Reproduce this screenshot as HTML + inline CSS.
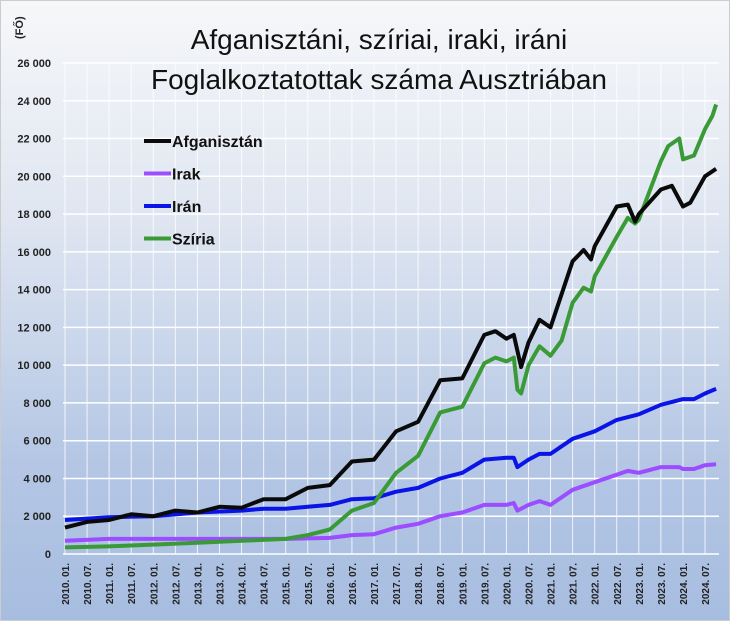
<!DOCTYPE html>
<html><head><meta charset="utf-8"><style>
body{margin:0;}
#wrap{width:730px;height:621px;position:relative;overflow:hidden;background:linear-gradient(#f6f7f9 0%,#dfe6f1 35%,#b4c6e4 75%,#a7bde0 100%);border:1px solid #ccc;box-sizing:border-box;font-family:"Liberation Sans",sans-serif;}
svg{position:absolute;left:0;top:0}
</style></head><body>
<div id="wrap">
<svg id="c" width="730" height="621"></svg>
</div>
<script>
const afgDates=["2010.01","2010.07","2011.01","2011.07","2012.01","2012.07","2013.01","2013.07","2014.01","2014.07","2015.01","2015.07","2016.01","2016.07","2017.01","2017.07","2018.01","2018.07","2019.01","2019.07","2019.10","2020.01","2020.03","2020.05","2020.07","2020.10","2021.01","2021.07","2021.10","2021.12","2022.01","2022.07","2022.10","2022.12","2023.01","2023.07","2023.10","2024.01","2024.03","2024.07","2024.10"];
const afgValues=[1400,1700,1800,2100,2000,2300,2200,2500,2450,2900,2900,3500,3650,4900,5000,6500,7000,9200,9300,11600,11800,11400,11600,9900,11200,12400,12000,15500,16100,15600,16300,18400,18500,17600,18000,19300,19500,18400,18600,20000,20400];
const syrDates=["2010.01","2011.01","2012.01","2013.01","2014.01","2015.01","2015.07","2016.01","2016.07","2017.01","2017.07","2018.01","2018.07","2019.01","2019.07","2019.10","2020.01","2020.03","2020.04","2020.05","2020.07","2020.10","2021.01","2021.04","2021.07","2021.10","2021.12","2022.01","2022.07","2022.10","2022.12","2023.01","2023.07","2023.09","2023.12","2024.01","2024.04","2024.07","2024.09","2024.10"];
const syrValues=[350,400,500,600,700,800,1000,1300,2300,2700,4300,5200,7500,7800,10100,10400,10200,10400,8700,8500,10000,11000,10500,11300,13300,14100,13900,14700,16800,17800,17500,17700,20800,21600,22000,20900,21100,22500,23200,23800];
const iranDates=["2010.01","2011.01","2012.01","2013.01","2014.01","2014.07","2015.01","2015.07","2016.01","2016.07","2017.01","2017.07","2018.01","2018.07","2019.01","2019.07","2020.01","2020.03","2020.04","2020.07","2020.10","2021.01","2021.07","2022.01","2022.07","2023.01","2023.07","2024.01","2024.04","2024.07","2024.10"];
const iranValues=[1800,1950,2000,2200,2300,2400,2400,2500,2600,2900,2950,3300,3500,4000,4300,5000,5100,5100,4600,5000,5300,5300,6100,6500,7100,7400,7900,8200,8200,8500,8750];
const irakDates=["2010.01","2011.01","2012.01","2013.01","2014.01","2015.01","2016.01","2016.07","2017.01","2017.07","2018.01","2018.07","2019.01","2019.07","2020.01","2020.03","2020.04","2020.07","2020.10","2021.01","2021.07","2022.01","2022.07","2022.10","2023.01","2023.07","2023.12","2024.01","2024.04","2024.07","2024.10"];
const irakValues=[700,800,800,800,800,800,850,1000,1050,1400,1600,2000,2200,2600,2600,2700,2300,2600,2800,2600,3400,3800,4200,4400,4300,4600,4600,4500,4500,4700,4750];
const yTicks=[0,2000,4000,6000,8000,10000,12000,14000,16000,18000,20000,22000,24000,26000];
const xTickLabels=[];for(let y=2010;y<=2024;y++){xTickLabels.push(y+". 01.");xTickLabels.push(y+". 07.");}

const NS="http://www.w3.org/2000/svg",svg=document.getElementById('c');
const X0=64,PX_PER_MONTH=22.07/6,Y0=553,Y1=62,YMAX=26000;
function mon(d){const p=d.split('.');return (+p[0]-2010)*12+(+p[1]-1);}
function xs(d){return X0+mon(d)*PX_PER_MONTH;}
function ys(v){return Y0-(v/YMAX)*(Y0-Y1);}
function mk(t,a){const e=document.createElementNS(NS,t);for(const k in a)e.setAttribute(k,a[k]);svg.appendChild(e);return e;}

yTicks.forEach(v=>{
  const l=mk('line',{x1:62,x2:718,y1:ys(v),y2:ys(v),stroke:'#fff','stroke-width':1.5});
  
  
  const t=mk('text',{x:50,y:ys(v)+4,'text-anchor':'end','font-size':11,'font-weight':'bold',fill:'#222'});
  t.textContent=v===0?'0':(v/1000)+' 000';
  
  
});
xTickLabels.forEach((s,i)=>{
  const x=X0+i*6*PX_PER_MONTH;
  const l=mk('line',{x1:x,x2:x,y1:Y1,y2:Y0,stroke:'#fff','stroke-width':1,opacity:0.8});
  
  
  const t=mk('text',{x:0,y:0,transform:`translate(${x+4},562) rotate(-90)`,'text-anchor':'end','font-size':10,'font-weight':'bold',fill:'#222'});
  t.textContent=s;
  
  
});
function series(dates,vals,color,name){
  const pts=dates.map((d,i)=>xs(d).toFixed(1)+','+ys(vals[i]).toFixed(1)).join(' ');
  const p=mk('polyline',{points:pts,fill:'none',stroke:color,'stroke-width':4,'stroke-linejoin':'round'});
  
  
}
series(irakDates,irakValues,'#9b4dff','series-irak');
series(iranDates,iranValues,'#0a14e6','series-iran');
series(syrDates,syrValues,'#3a9a36','series-syria');
series(afgDates,afgValues,'#0a0a0a','series-afghanistan');

[['Afganisztán','#0a0a0a'],['Irak','#9b4dff'],['Irán','#0a14e6'],['Szíria','#3a9a36']].forEach((e,i)=>{
  const y=140+i*32.5;
  const l=mk('line',{x1:143,x2:170,y1:y,y2:y,stroke:e[1],'stroke-width':4});
  
  
  const t=mk('text',{x:171,y:y+6,'font-size':16,'font-weight':'bold',fill:'#111'});
  t.textContent=e[0];
  
  
});
[['Afganisztáni, szíriai, iraki, iráni',48],['Foglalkoztatottak száma Ausztriában',88]].forEach((e,i)=>{
  const t=mk('text',{x:378,y:e[1],'text-anchor':'middle','font-size':28,fill:'#111'});
  t.textContent=e[0];
  
  
});
const u=mk('text',{x:0,y:0,transform:'translate(22,38) rotate(-90)','font-size':11,'font-weight':'bold',fill:'#222'});
u.textContent='(FŐ)';


</script>
</body></html>
